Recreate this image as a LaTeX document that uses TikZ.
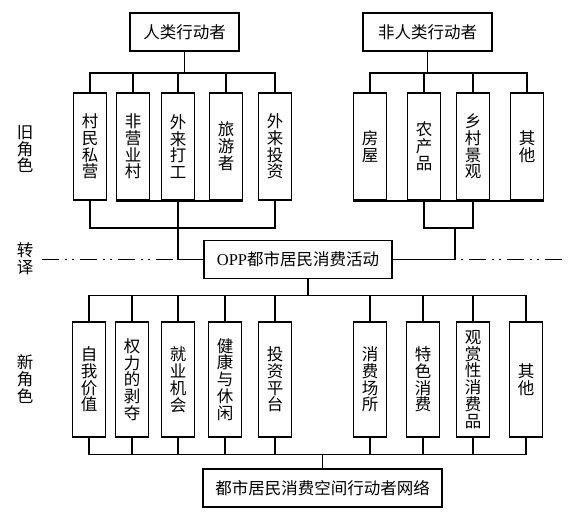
\documentclass[tikz,border=0pt]{standalone}
\usepackage{fontspec}
\setmainfont{Liberation Serif}
\newfontfamily\cjk{Noto Sans CJK SC}
\usetikzlibrary{positioning,calc}

\begin{document}
\begin{tikzpicture}[x=1pt,y=-1pt,
  font=\cjk\fontsize{16.5}{16.8}\selectfont,
  actor/.style={draw,line width=1.5pt,minimum height=38pt,inner sep=0pt},
  role/.style={draw,line width=1.5pt,minimum width=33pt,inner sep=0pt,align=center},
  wire/.style={line width=1.5pt},
  trans/.style={line width=1.5pt,dash pattern=on 17pt off 6pt on 2pt off 5pt on 2pt off 6pt},
  side/.style={align=center}]

\useasboundingbox (0,0) rectangle (569,514);

% actors
\node[actor,minimum width=109pt] (hum) at (184.5,32) {人类行动者};
\node[actor,minimum width=129pt] (non) at (427.5,32) {非人类行动者};

% old roles
\node[role,minimum height=107pt] (o1) at (90,146.5)  {村\\民\\私\\营};
\node[role,minimum height=107pt] (o2) at (133,146.5) {非\\营\\业\\村};
\node[role,minimum height=107pt] (o3) at (178,146.5) {外\\来\\打\\工};
\node[role,minimum height=107pt] (o4) at (226,146.5) {旅\\游\\者};
\node[role,minimum height=107pt] (o5) at (275,146.5) {外\\来\\投\\资};
\node[role,minimum height=107pt] (n1) at (370,146.5) {房\\屋};
\node[role,minimum height=107pt] (n2) at (424,146.5) {农\\产\\品};
\node[role,minimum height=107pt] (n3) at (473,146.5) {乡\\村\\景\\观};
\node[role,minimum height=107pt] (n4) at (527,146.5) {其\\他};

% translation
\node[actor,minimum width=188pt] (opp) at (298,259.5) {{\rmfamily OPP}都市居民消费活动};

% new roles
\node[role,minimum height=115pt] (p1) at (89,379.5)  {自\\我\\价\\值};
\node[role,minimum height=115pt] (p2) at (132,379.5) {权\\力\\的\\剥\\夺};
\node[role,minimum height=115pt] (p3) at (178,379.5) {就\\业\\机\\会};
\node[role,minimum height=115pt] (p4) at (225,379.5) {健\\康\\与\\休\\闲};
\node[role,minimum height=115pt] (p5) at (275,379.5) {投\\资\\平\\台};
\node[role,minimum height=115pt] (p6) at (370,379.5) {消\\费\\场\\所};
\node[role,minimum height=115pt] (p7) at (423,379.5) {特\\色\\消\\费};
\node[role,minimum height=115pt] (p8) at (473,379.5) {观\\赏\\性\\消\\费\\品};
\node[role,minimum height=115pt] (p9) at (526,379.5) {其\\他};

\node[actor,minimum width=239pt] (net) at (322.5,488) {都市居民消费空间行动者网络};

% side labels
\node[side] (old) at (25,149) {旧\\角\\色};
\node[side] (tra) at (25,259) {转\\译};
\node[side] (new) at (25,379) {新\\角\\色};

% dash-dot line
\coordinate (tl) at (42,259.5);
\coordinate (tr) at (566,259.5);
\draw[trans] (tl) -- (opp.west);
\draw[trans] (opp.east) -- (tr);

% upper trees
\draw[wire] (hum.south) -- ++(0,21) coordinate (hb);
\foreach \n in {o1,o2,o3,o4,o5} \draw[wire] (hb) -| (\n.north);
\draw[wire] (non.south) -- ++(0,21) coordinate (nt);
\foreach \n in {n1,n2,n3,n4} \draw[wire] (nt) -| (\n.north);

\draw[wire] (o2.south west) -- (o4.south east);
\draw[wire] (o3.south) -- ++(0,27) coordinate (ob);
\draw[wire] (o1.south) |- (ob) -| (o5.south);
\draw[wire] (ob) |- (opp.west);

\draw[wire] (n1.south west) -- (n4.south east);
\draw[wire] (n2.south) -- ++(0,27) coordinate (nb) -| (n3.south);
\coordinate (ns) at ($(nb)!0.63!(nb -| n3.south)$);
\draw[wire] (ns) |- (opp.east);

% lower tree
\draw[wire] ($(opp.south)+(10,0)$) -- ++(0,16) coordinate (lb);
\foreach \n in {p1,p2,p3,p4,p5,p6,p7,p8,p9} \draw[wire] (lb) -| (\n.north);
\draw[wire] (net.north) -- ++(0,-14) coordinate (fb);
\foreach \n in {p1,p2,p3,p4,p5,p6,p7,p8,p9} \draw[wire] (fb) -| (\n.south);
\end{tikzpicture}
\end{document}
